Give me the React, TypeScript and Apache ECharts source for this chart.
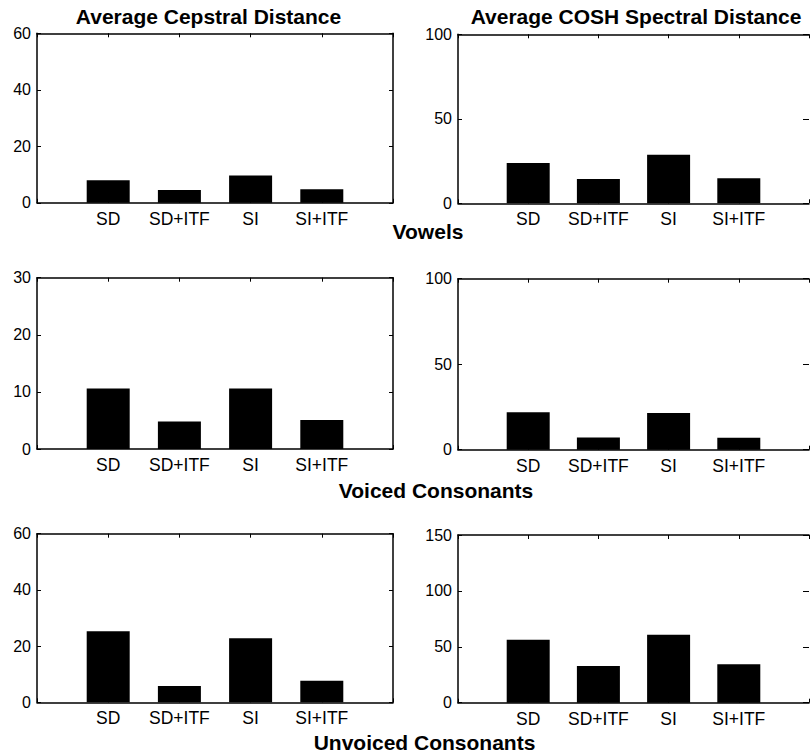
import React, { useEffect, useRef } from "react";
import * as echarts from "echarts";

const categories = ["SD", "SD+ITF", "SI", "SI+ITF"];

const vowelsCepstral = [8.0, 4.5, 9.7, 4.8];
const vowelsCosh = [23.8, 14.4, 28.8, 14.8];
const voicedCepstral = [10.6, 4.8, 10.6, 5.1];
const voicedCosh = [21.9, 7.2, 21.4, 7.0];
const unvoicedCepstral = [25.3, 5.8, 22.8, 7.7];
const unvoicedCosh = [56.4, 32.8, 60.8, 34.3];

const yMax = [60, 100, 30, 100, 60, 150];
const yStep = [20, 50, 10, 50, 20, 50];

const columnTitles = ["Average Cepstral Distance", "Average COSH Spectral Distance"];
const sectionLabels = ["Vowels", "Voiced Consonants", "Unvoiced Consonants"];

const FONT = "'Liberation Sans', Arial, Helvetica, sans-serif";

export default function App() {
  const ref = useRef<HTMLDivElement>(null);

  useEffect(() => {
    if (!ref.current) return;
    const chart = echarts.init(ref.current, null, { renderer: "svg" });

    const seriesValues = [
      vowelsCepstral,
      vowelsCosh,
      voicedCepstral,
      voicedCosh,
      unvoicedCepstral,
      unvoicedCosh,
    ];

    // grid boxes: [left, top, width, height]
    const boxes = [
      [37, 33.3, 356, 169.5],
      [458, 34.3, 358, 169],
      [37, 277.7, 356, 171.3],
      [458, 278.7, 358, 171],
      [37, 533.7, 356, 168.6],
      [458, 535, 358, 167.7],
    ];

    const lineStyle = { color: "#000", width: 1.5 };
    const tickStyle = { color: "#000", width: 1 };

    const grids: any[] = [];
    const xAxes: any[] = [];
    const yAxes: any[] = [];
    const series: any[] = [];

    boxes.forEach((b, i) => {
      const rightCol = i % 2 === 1;
      grids.push({ left: b[0], top: b[1], width: b[2], height: b[3], containLabel: false });
      const xBase = {
        type: "value",
        gridIndex: i,
        min: 0,
        max: 5,
        interval: 1,
        splitLine: { show: false },
        axisLine: { show: true, onZero: false, lineStyle },
        axisTick: { show: true, inside: true, length: 4, lineStyle: tickStyle },
      };
      xAxes.push({
        ...xBase,
        position: "bottom",
        axisLabel: {
          show: true,
          color: "#000",
          fontSize: 17.5,
          fontFamily: FONT,
          margin: 7,
          formatter: (v: number) => categories[Math.round(v) - 1] ?? "",
        },
      });
      xAxes.push({ ...xBase, position: "top", axisLabel: { show: false } });

      const yBase = {
        type: "value",
        gridIndex: i,
        min: 0,
        max: yMax[i],
        interval: yStep[i],
        splitLine: { show: false },
        axisLine: { show: true, onZero: false, lineStyle },
        axisTick: { show: true, inside: true, length: 4, lineStyle: tickStyle },
      };
      yAxes.push({
        ...yBase,
        position: "left",
        axisLabel: { show: true, color: "#000", fontSize: 16, fontFamily: FONT, margin: 6 },
      });
      yAxes.push({
        ...yBase,
        position: "right",
        axisLine: { show: !rightCol, onZero: false, lineStyle },
        axisTick: { show: true, inside: true, length: rightCol ? 6 : 4, lineStyle: tickStyle },
        axisLabel: { show: false },
      });

      series.push({
        type: "bar",
        xAxisIndex: 2 * i,
        yAxisIndex: 2 * i,
        barWidth: 43,
        silent: true,
        itemStyle: { color: "#000" },
        data: seriesValues[i].map((v, j) => [j + 1, v]),
      });
    });

    const boldText = (text: string, x: number, y: number) => ({
      type: "text",
      x,
      y,
      silent: true,
      style: {
        text,
        fill: "#000",
        font: `bold 21px ${FONT}`,
        align: "center",
        verticalAlign: "middle",
        textAlign: "center",
        textVerticalAlign: "middle",
      },
    });

    const graphic = [
      boldText(columnTitles[0], 208.5, 16.5),
      boldText(columnTitles[1], 636, 16.5),
      boldText(sectionLabels[0], 428, 231),
      boldText(sectionLabels[1], 436, 490),
      boldText(sectionLabels[2], 424.5, 742),
    ];

    chart.setOption({
      animation: false,
      backgroundColor: "#fff",
      grid: grids,
      xAxis: xAxes,
      yAxis: yAxes,
      series,
      graphic,
    });

    return () => chart.dispose();
  }, []);

  return (
    <div
      ref={ref}
      style={{ position: "absolute", left: 0, top: 0, width: 812, height: 753 }}
    />
  );
}
